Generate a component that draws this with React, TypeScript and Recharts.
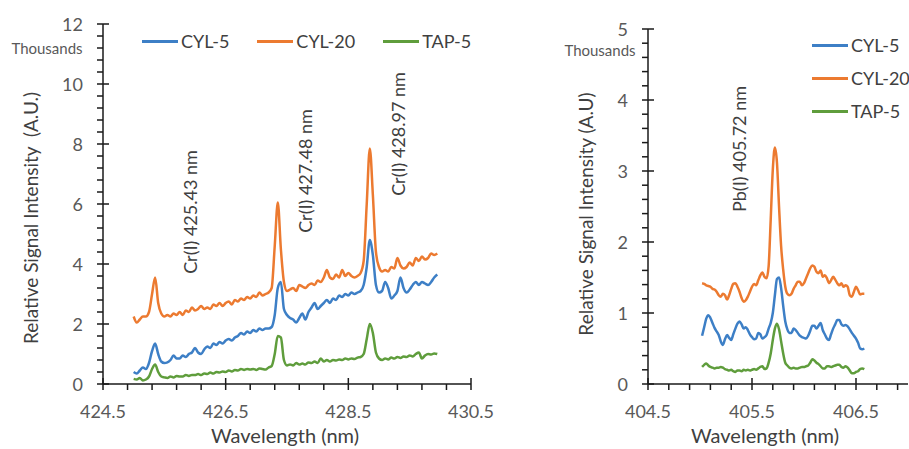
import React from 'react';
import { LineChart, Line, XAxis, YAxis, Legend } from 'recharts';

// left panel: Cr lines
const crWavelength = [
  425.0, 425.05, 425.1, 425.15, 425.2, 425.25, 425.3, 425.35, 425.4, 425.45,
  425.5, 425.55, 425.6, 425.65, 425.7, 425.75, 425.8, 425.85, 425.9, 425.95,
  426.0, 426.05, 426.1, 426.15, 426.2, 426.25, 426.3, 426.35, 426.4, 426.45,
  426.5, 426.55, 426.6, 426.65, 426.7, 426.75, 426.8, 426.85, 426.9, 426.95,
  427.0, 427.05, 427.1, 427.15, 427.2, 427.25, 427.3, 427.35, 427.4, 427.45,
  427.5, 427.55, 427.6, 427.65, 427.7, 427.75, 427.8, 427.85, 427.9, 427.95,
  428.0, 428.05, 428.1, 428.15, 428.2, 428.25, 428.3, 428.35, 428.4, 428.45,
  428.5, 428.55, 428.6, 428.65, 428.7, 428.75, 428.8, 428.85, 428.9, 428.95,
  429.0, 429.05, 429.1, 429.15, 429.2, 429.25, 429.3, 429.35, 429.4, 429.45,
  429.5, 429.55, 429.6, 429.65, 429.7, 429.75, 429.8, 429.85, 429.9, 429.95,
];
const crCyl5 = [
  0.4, 0.35, 0.45, 0.55, 0.5, 0.7, 1.1, 1.35, 1.0, 0.75,
  0.7, 0.72, 0.8, 0.95, 0.85, 0.85, 0.95, 0.9, 1.0, 1.05,
  1.2, 1.05, 1.0, 1.15, 1.25, 1.2, 1.35, 1.3, 1.4, 1.35,
  1.45, 1.5, 1.45, 1.55, 1.6, 1.7, 1.65, 1.75, 1.7, 1.8,
  1.75, 1.85, 1.8, 1.85, 1.85, 1.9, 2.3, 3.2, 3.4, 2.5,
  2.3, 2.2, 2.15, 2.05, 2.2, 2.35, 2.15, 2.4, 2.55, 2.7,
  2.5, 2.6, 2.7, 2.8, 2.7, 2.85, 2.8, 2.95, 2.9, 3.0,
  2.95, 3.05, 3.0, 3.05, 3.1, 3.3, 3.9, 4.8, 4.3, 3.3,
  3.05, 3.1, 3.4, 3.2, 2.85, 2.95, 3.1, 3.55, 3.2, 3.05,
  3.15, 3.3, 3.4, 3.3, 3.4, 3.35, 3.3, 3.4, 3.55, 3.65,
];
const crCyl20 = [
  2.25, 2.05, 2.15, 2.25, 2.25, 2.4, 3.0, 3.55, 2.7, 2.35,
  2.25, 2.3, 2.25, 2.35, 2.3, 2.4, 2.3, 2.45, 2.4, 2.55,
  2.45, 2.5, 2.6, 2.5, 2.55, 2.5, 2.65, 2.6, 2.7, 2.6,
  2.7, 2.75, 2.65, 2.8, 2.75, 2.85, 2.8, 2.9, 2.85, 2.95,
  2.9, 3.05, 2.95, 3.0, 3.05, 3.2, 4.6, 6.05, 4.5, 3.4,
  3.1, 3.15, 3.2, 3.1, 3.3, 3.25, 3.2, 3.3, 3.35, 3.3,
  3.45, 3.4, 3.55, 3.8, 3.55, 3.5, 3.65, 3.55, 3.8, 3.6,
  3.7, 3.6, 3.55, 3.6, 3.7, 4.1, 6.0, 7.85, 6.3, 4.4,
  3.9, 3.75, 3.8, 3.75, 3.9, 3.85, 4.2, 3.95, 3.85, 3.9,
  4.05, 3.95, 4.2, 4.1, 4.25, 4.15, 4.2, 4.35, 4.3, 4.35,
];
const crTap5 = [
  0.17, 0.15, 0.2, 0.12, 0.15, 0.25, 0.5, 0.65, 0.4, 0.25,
  0.22, 0.2, 0.25, 0.22, 0.27, 0.25, 0.25, 0.3, 0.27, 0.3,
  0.3, 0.33, 0.3, 0.35, 0.33, 0.38, 0.35, 0.4, 0.38, 0.42,
  0.4, 0.45, 0.42, 0.47, 0.45, 0.5, 0.47, 0.5, 0.48, 0.5,
  0.47, 0.52, 0.5, 0.48, 0.55, 0.6, 1.0, 1.6, 1.55, 0.8,
  0.62, 0.65, 0.62, 0.7, 0.65, 0.68, 0.65, 0.72, 0.7, 0.75,
  0.7, 0.85, 0.75, 0.8, 0.75, 0.8, 0.78, 0.82, 0.8, 0.85,
  0.82, 0.85, 0.83, 0.88, 0.9, 1.0, 1.5, 2.0, 1.7, 1.05,
  0.85, 0.8, 0.85, 0.82, 0.88, 0.85, 0.9, 0.87, 0.92, 0.9,
  0.95, 0.92, 1.0, 1.05, 0.85, 0.95, 1.0, 0.98, 1.02, 1.0,
];

// right panel: Pb line
const pbWavelength = [
  405.02, 405.04, 405.06, 405.08, 405.1, 405.12, 405.14, 405.16, 405.18, 405.2,
  405.22, 405.24, 405.26, 405.28, 405.3, 405.32, 405.34, 405.36, 405.38, 405.4,
  405.42, 405.44, 405.46, 405.48, 405.5, 405.52, 405.54, 405.56, 405.58, 405.6,
  405.62, 405.64, 405.66, 405.68, 405.7, 405.72, 405.74, 405.76, 405.78, 405.8,
  405.82, 405.84, 405.86, 405.88, 405.9, 405.92, 405.94, 405.96, 405.98, 406.0,
  406.02, 406.04, 406.06, 406.08, 406.1, 406.12, 406.14, 406.16, 406.18, 406.2,
  406.22, 406.24, 406.26, 406.28, 406.3, 406.32, 406.34, 406.36, 406.38, 406.4,
  406.42, 406.44, 406.46, 406.48, 406.5, 406.52, 406.54, 406.56, 406.58,
];
const pbCyl5 = [
  0.68, 0.8, 0.92, 0.97, 0.93, 0.86, 0.79, 0.74, 0.69, 0.6,
  0.55, 0.63, 0.69, 0.65, 0.62, 0.7, 0.78, 0.85, 0.88, 0.84,
  0.78, 0.8, 0.76, 0.7, 0.66, 0.63, 0.64, 0.72, 0.7, 0.64,
  0.66, 0.69, 0.78, 0.86, 1.0, 1.25, 1.48, 1.5, 1.35, 1.1,
  0.88, 0.77, 0.72, 0.72, 0.78, 0.76, 0.72, 0.68, 0.66, 0.65,
  0.64, 0.68, 0.75, 0.82, 0.82, 0.78, 0.82, 0.86, 0.76, 0.7,
  0.64, 0.62, 0.7, 0.78, 0.84, 0.9, 0.9, 0.84, 0.82, 0.83,
  0.81, 0.77, 0.72, 0.68, 0.64, 0.58, 0.5, 0.49, 0.5,
];
const pbCyl20 = [
  1.42, 1.41, 1.39, 1.38, 1.37, 1.34, 1.33, 1.3, 1.25, 1.23,
  1.27, 1.25, 1.19, 1.25, 1.34, 1.41, 1.42, 1.37, 1.3, 1.21,
  1.16, 1.18, 1.23, 1.3, 1.37, 1.41, 1.39, 1.46, 1.53, 1.57,
  1.51, 1.49, 1.66, 2.32, 3.02, 3.33, 3.12, 2.5, 1.94, 1.61,
  1.37, 1.27, 1.25, 1.27, 1.34, 1.39, 1.44, 1.44, 1.39, 1.42,
  1.49, 1.56, 1.63, 1.67, 1.65, 1.58, 1.56, 1.6, 1.51, 1.53,
  1.49, 1.42, 1.46, 1.51, 1.47, 1.42, 1.39, 1.42, 1.37, 1.39,
  1.37, 1.25, 1.23, 1.3, 1.37, 1.32, 1.26, 1.27, 1.27,
];
const pbTap5 = [
  0.24, 0.27, 0.29, 0.26, 0.24, 0.23, 0.22, 0.23, 0.23, 0.24,
  0.23, 0.21, 0.2, 0.19, 0.2, 0.18, 0.17, 0.19, 0.19, 0.18,
  0.2, 0.19, 0.2, 0.19, 0.2, 0.21, 0.2, 0.22, 0.24, 0.25,
  0.21, 0.22, 0.3, 0.43, 0.62, 0.78, 0.85, 0.77, 0.6, 0.43,
  0.3, 0.26, 0.23, 0.22, 0.23, 0.22, 0.22, 0.23, 0.24, 0.24,
  0.25, 0.26, 0.3, 0.35, 0.33, 0.3, 0.28, 0.25, 0.22, 0.22,
  0.25, 0.25, 0.24, 0.25, 0.26, 0.27, 0.27, 0.24, 0.23, 0.25,
  0.23, 0.19, 0.15, 0.15, 0.17, 0.18, 0.21, 0.22, 0.21,
];

const crXTicks = [424.5, 424.9, 425.3, 425.7, 426.1, 426.5, 426.9, 427.3, 427.7, 428.1, 428.5, 428.9, 429.3, 429.7, 430.1, 430.5];
const crXMajor = [424.5, 426.5, 428.5, 430.5];
const crYTicks = [
  0, 0.4, 0.8, 1.2, 1.6, 2, 2.4, 2.8, 3.2, 3.6, 4, 4.4, 4.8, 5.2, 5.6, 6,
  6.4, 6.8, 7.2, 7.6, 8, 8.4, 8.8, 9.2, 9.6, 10, 10.4, 10.8, 11.2, 11.6, 12,
];
const crYMajor = [0, 2, 4, 6, 8, 10, 12];
const pbXTicks = [404.5, 404.7, 404.9, 405.1, 405.3, 405.5, 405.7, 405.9, 406.1, 406.3, 406.5, 406.7, 406.9];
const pbXMajor = [404.5, 405.5, 406.5];
const pbYTicks = [0, 0.2, 0.4, 0.6, 0.8, 1, 1.2, 1.4, 1.6, 1.8, 2, 2.2, 2.4, 2.6, 2.8, 3, 3.2, 3.4, 3.6, 3.8, 4, 4.2, 4.4, 4.6, 4.8, 5];
const pbYMajor = [0, 1, 2, 3, 4, 5];

const seriesKeys = ['cyl5', 'cyl20', 'tap5'];
const seriesNames = ['CYL-5', 'CYL-20', 'TAP-5'];
const seriesColors = ['#3d7fc6', '#ec7a30', '#5f9d3c'];

const FONT = "Lato, 'Open Sans', sans-serif";
const AXIS = '#1a1a1a';
const TICK_TEXT = '#595959';

const crData = crWavelength.map((w, i) => ({ w, cyl5: crCyl5[i], cyl20: crCyl20[i], tap5: crTap5[i] }));
const pbData = pbWavelength.map((w, i) => ({ w, cyl5: pbCyl5[i], cyl20: pbCyl20[i], tap5: pbTap5[i] }));

const isMajor = (v: number, majors: number[]) => majors.some(m => Math.abs(m - v) < 1e-6);

function makeXTick(axisY: number, majors: number[]) {
  return (props: any) => {
    const { x, payload } = props;
    const major = isMajor(payload.value, majors);
    return (
      <g>
        <line x1={x} x2={x} y1={major ? axisY - 6 : axisY} y2={axisY + 6} stroke={AXIS} strokeWidth={1.5} />
        {major && (
          <text x={x} y={axisY + 27} textAnchor="middle" dominantBaseline="central"
            fill={TICK_TEXT} fontSize={18} fontFamily={FONT}>
            {payload.value.toFixed(1)}
          </text>
        )}
      </g>
    );
  };
}

function makeYTick(axisX: number, majors: number[]) {
  return (props: any) => {
    const { y, payload } = props;
    const major = isMajor(payload.value, majors);
    return (
      <g>
        <line x1={axisX - 6} x2={major ? axisX + 6 : axisX} y1={y} y2={y} stroke={AXIS} strokeWidth={1.5} />
        {major && (
          <text x={axisX - 20} y={y} textAnchor="end" dominantBaseline="central"
            fill={TICK_TEXT} fontSize={18} fontFamily={FONT}>
            {payload.value}
          </text>
        )}
      </g>
    );
  };
}

// legend drawn in the series order, not sorted
function legendContent(vertical: boolean) {
  return () => (
    <div style={{ display: 'flex', flexDirection: vertical ? 'column' : 'row', gap: vertical ? 11 : 28, fontFamily: FONT }}>
      {seriesNames.map((name, i) => (
        <div key={name} style={{ display: 'flex', alignItems: 'center', height: 22 }}>
          <span style={{ display: 'inline-block', width: 36, height: 3, background: seriesColors[i], marginRight: 3 }} />
          <span style={{ fontSize: 18, color: '#404040' }}>{name}</span>
        </div>
      ))}
    </div>
  );
}

function Overlay({ x, y, text, size = 18, rotate = false, color = '#404040' }: any) {
  return (
    <div style={{
      position: 'absolute', left: x, top: y, whiteSpace: 'pre', fontFamily: FONT, fontSize: size, color,
      transform: `translate(-50%, -50%)${rotate ? ' rotate(-90deg)' : ''}`, lineHeight: 1,
    }}>{text}</div>
  );
}

function series() {
  return seriesKeys.map((k, i) => (
    <Line key={k} dataKey={k} name={seriesNames[i]} stroke={seriesColors[i]} strokeWidth={2.5}
      dot={false} type="monotone" isAnimationActive={false} />
  ));
}

export default function App() {
  return (
    <div style={{ position: 'absolute', left: 0, top: 0, width: 909, height: 449, background: '#fff', overflow: 'hidden' }}>
      <div style={{ position: 'absolute', left: 0, top: 0 }}>
        {/* plot area: x 103..471, y 24..384 */}
        <LineChart width={520} height={449} data={crData} margin={{ top: 24, right: 49, bottom: 35, left: 43 }}>
          <XAxis dataKey="w" type="number" domain={[424.5, 430.5]} ticks={crXTicks} interval={0} height={30}
            axisLine={{ stroke: AXIS, strokeWidth: 1.5 }} tickLine={false} tick={makeXTick(384, crXMajor)} allowDataOverflow />
          <YAxis type="number" domain={[0, 12]} ticks={crYTicks} interval={0} width={60}
            axisLine={{ stroke: AXIS, strokeWidth: 1.5 }} tickLine={false} tick={makeYTick(103, crYMajor)} />
          <Legend layout="horizontal" align="center" verticalAlign="middle" content={legendContent(false)}
            wrapperStyle={{ left: 142, top: 30, width: 340 }} />
          {series()}
        </LineChart>
      </div>
      <div style={{ position: 'absolute', left: 540, top: 0 }}>
        {/* plot area: x 648..908, y 29..384 (page coords) */}
        <LineChart width={369} height={449} data={pbData} margin={{ top: 29, right: 1, bottom: 35, left: 48 }}>
          <XAxis dataKey="w" type="number" domain={[404.5, 407]} ticks={pbXTicks} interval={0} height={30}
            axisLine={{ stroke: AXIS, strokeWidth: 1.5 }} tickLine={false} tick={makeXTick(384, pbXMajor)} allowDataOverflow />
          <YAxis type="number" domain={[0, 5]} ticks={pbYTicks} interval={0} width={60}
            axisLine={{ stroke: AXIS, strokeWidth: 1.5 }} tickLine={false} tick={makeYTick(108, pbYMajor)} />
          <Legend layout="vertical" align="center" verticalAlign="middle" content={legendContent(true)}
            wrapperStyle={{ left: 272, top: 34, width: 100 }} />
          {series()}
        </LineChart>
      </div>

      <Overlay x={47} y={48} text="Thousands" size={15} color={TICK_TEXT} />
      <Overlay x={600} y={50} text="Thousands" size={15} color={TICK_TEXT} />
      <Overlay x={30} y={218} text="Relative Signal Intensity  (A.U.)" size={19} rotate />
      <Overlay x={585} y={214} text="Relative Signal Intensity (A.U)" size={19} rotate />
      <Overlay x={285} y={435} text="Wavelength (nm)" size={20} />
      <Overlay x={765} y={435} text="Wavelength (nm)" size={20} />
      <Overlay x={190} y={212} text="Cr(I) 425.43 nm" rotate />
      <Overlay x={305} y={171} text="Cr(I) 427.48 nm" rotate />
      <Overlay x={398} y={134} text="Cr(I) 428.97 nm" rotate />
      <Overlay x={739} y={149} text="Pb(I) 405.72 nm" rotate />
    </div>
  );
}
